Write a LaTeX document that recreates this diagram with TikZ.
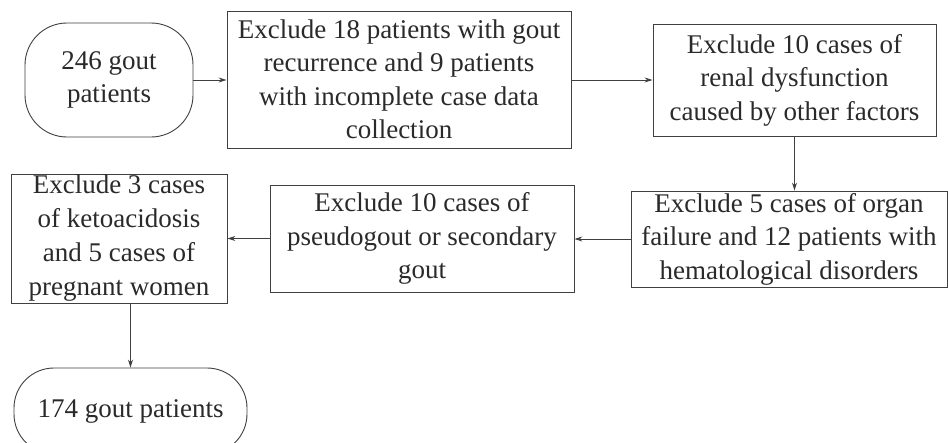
\documentclass[tikz,border=0pt]{standalone}
\usepackage{fontspec}
\setmainfont{Liberation Serif}
\usetikzlibrary{arrows.meta}
\definecolor{linec}{HTML}{404040}
\definecolor{textc}{HTML}{2A2A2A}
\begin{document}
\begin{tikzpicture}[x=1pt,y=-1pt,
  box/.style={draw=linec, line width=0.9pt, align=center, inner sep=0pt, text=textc,
              font=\fontsize{27}{33.5}\selectfont},
  arr/.style={draw=linec, line width=0.9pt, -{Stealth[length=8pt,width=5pt]}}]
\useasboundingbox (0,0) rectangle (948,442);
\fill[white] (0,0) rectangle (948,442);
\clip (0,0) rectangle (948,442);
\node[box, rounded corners=42pt, minimum width=168pt, minimum height=114pt] (n1) at (109,80) {246 gout\\patients};
\node[box, minimum width=344pt, minimum height=137pt] (n2) at (399,79.5) {Exclude 18 patients with gout\\recurrence and 9 patients\\with incomplete case data\\collection};
\node[box, minimum width=283pt, minimum height=112pt] (n3) at (794.5,80) {Exclude 10 cases of\\renal dysfunction\\caused by other factors};
\node[box, minimum width=316pt, minimum height=96pt] (n4) at (789,239) {Exclude 5 cases of organ\\failure and 12 patients with\\hematological disorders};
\node[box, minimum width=304pt, minimum height=107pt] (n5) at (422,238.5) {Exclude 10 cases of\\pseudogout or secondary\\gout};
\node[box, minimum width=216pt, minimum height=129pt, font=\fontsize{27}{34}\selectfont] (n6) at (119,238.5) {Exclude 3 cases\\of ketoacidosis\\and 5 cases of\\pregnant women};
\node[box, rounded corners=40pt, minimum width=233pt, minimum height=86pt] (n7) at (130.5,411) {174 gout patients};
\draw[arr] (n1.east) -- (n2.west |- n1.east);
\draw[arr] (n2.east |- n3.west) -- (n3.west);
\draw[arr] (n3.south) -- (n3.south |- n4.north);
\draw[arr] (n4.west) -- (n5.east |- n4.west);
\draw[arr] (n5.west) -- (n6.east |- n5.west);
\draw[arr] (n7.north |- n6.south) -- (n7.north);
\end{tikzpicture}
\end{document}
